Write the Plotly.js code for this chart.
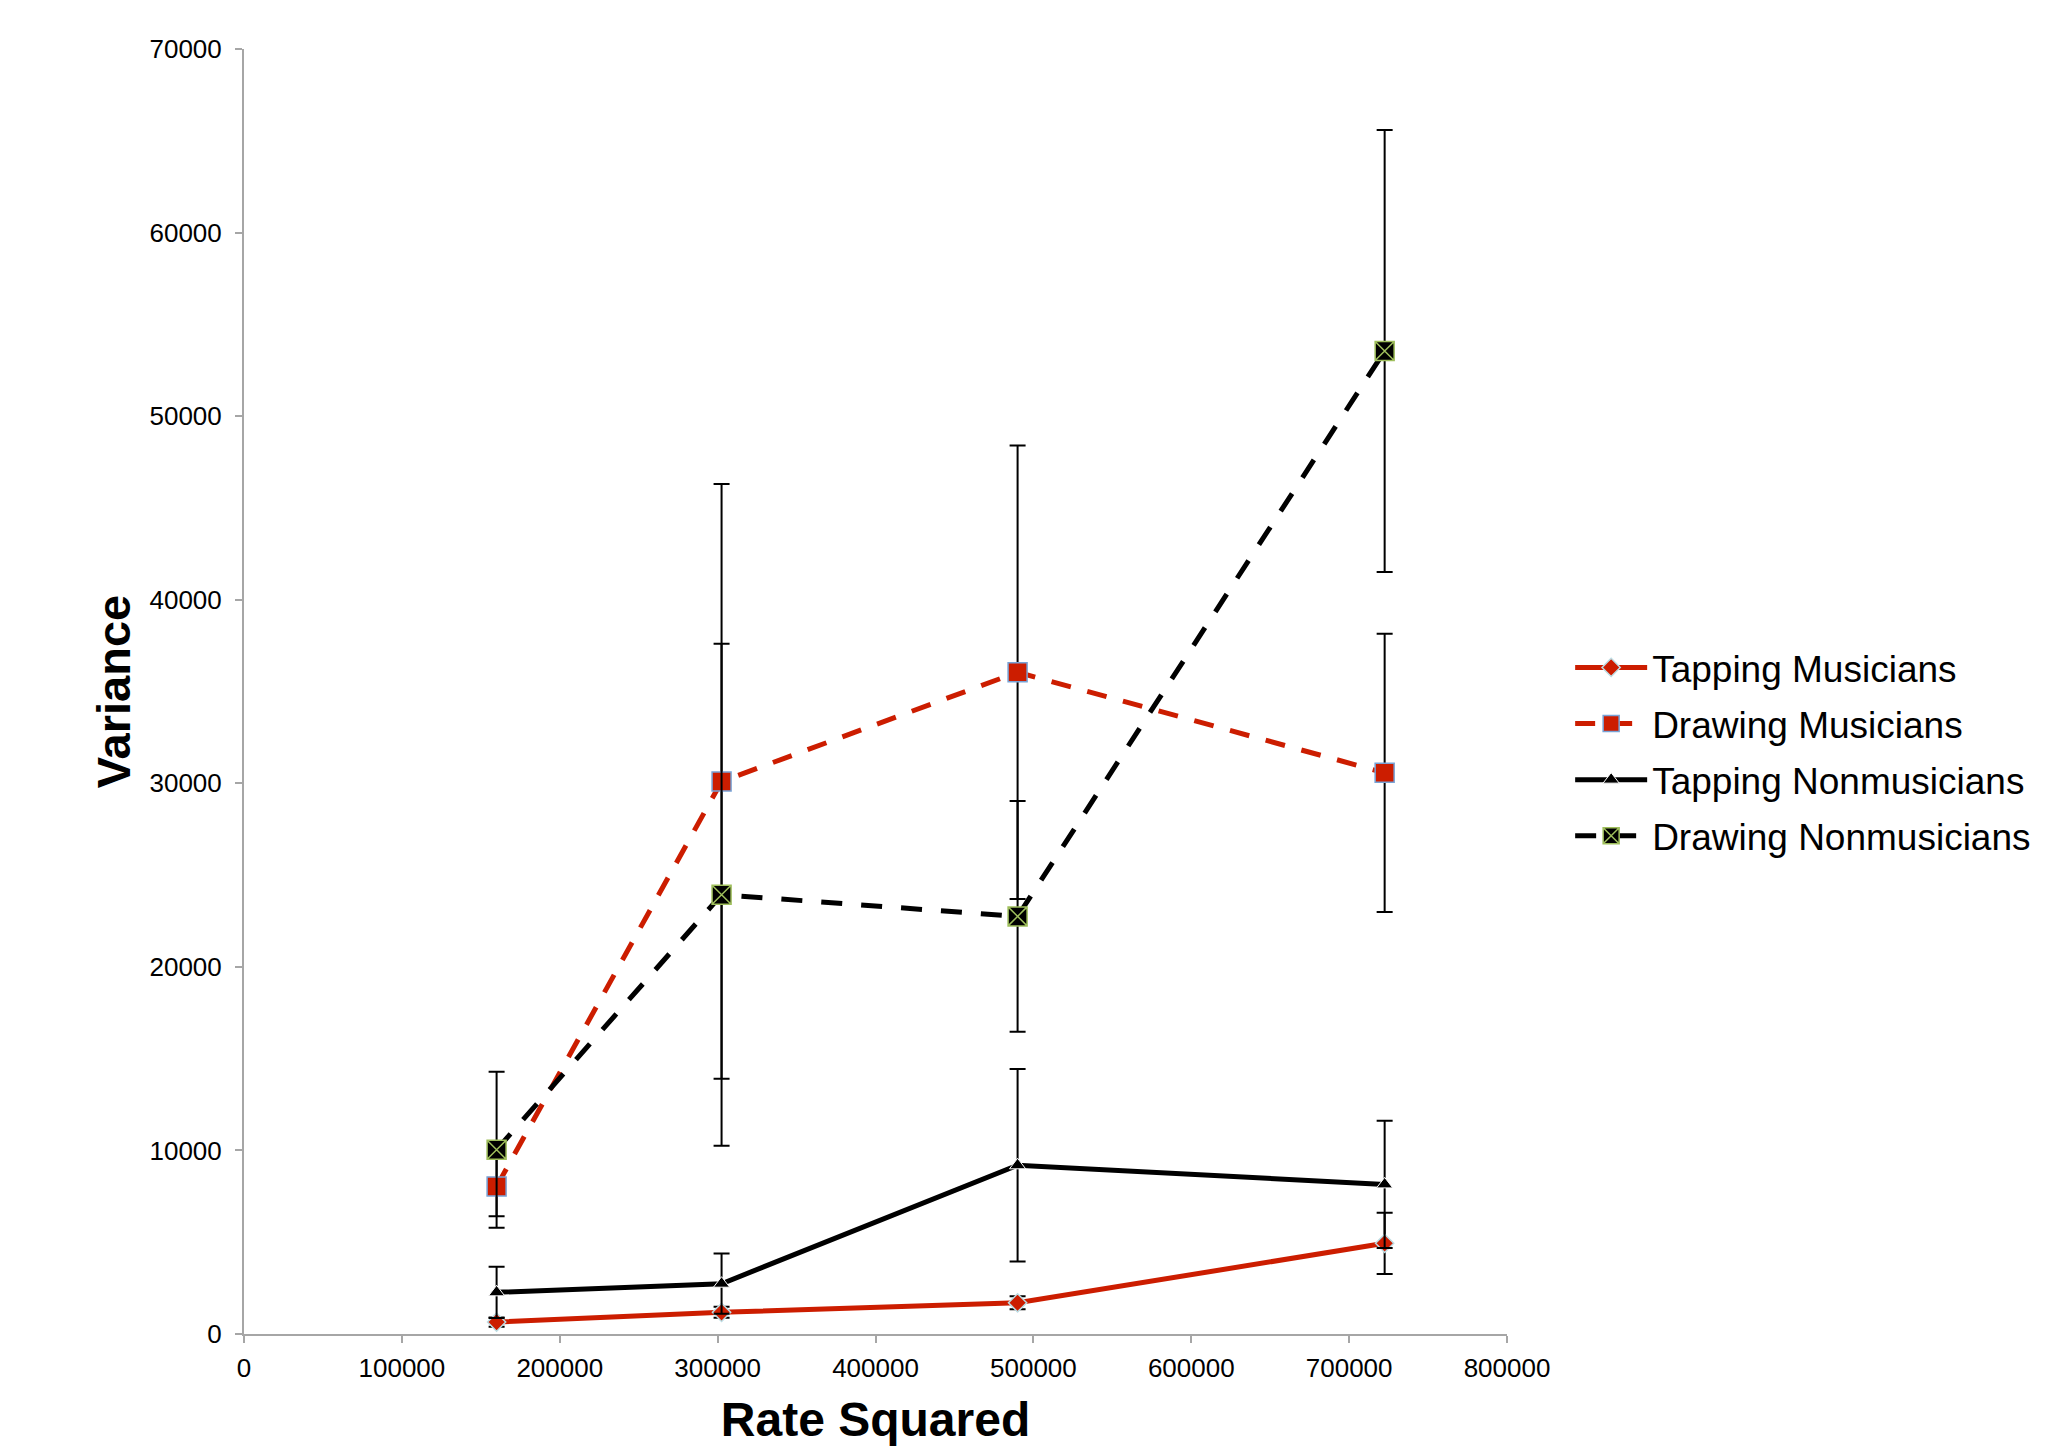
<!DOCTYPE html>
<html>
<head>
<meta charset="utf-8">
<script src="https://cdn.plot.ly/plotly-3.0.1.min.js"></script>
<style>html,body{margin:0;padding:0;background:#fff;}#chart{width:2065px;height:1446px;}</style>
</head>
<body>
<div id="chart"></div>
<script>
const rateSquared = [160000, 302500, 490000, 722500];
const seriesNames = ["Tapping Musicians", "Drawing Musicians", "Tapping Nonmusicians", "Drawing Nonmusicians"];
const tappingMusicians = [650, 1180, 1700, 4940];
const tappingMusiciansErr = [250, 300, 350, 1670];
const drawingMusicians = [8040, 30100, 36050, 30570];
const drawingMusiciansErr = [1630, 16200, 12350, 7580];
const tappingNonmusicians = [2270, 2740, 9190, 8150];
const tappingNonmusiciansErr = [1400, 1640, 5240, 3460];
const drawingNonmusicians = [10040, 23930, 22750, 53550];
const drawingNonmusiciansErr = [4250, 13670, 6280, 12040];
const xTicks = [0, 100000, 200000, 300000, 400000, 500000, 600000, 700000, 800000];
const yTicks = [0, 10000, 20000, 30000, 40000, 50000, 60000, 70000];

const RED = "#cc1d00";
const FONT = "'Liberation Sans', Arial, Helvetica, sans-serif";

function errBar(arr) {
  return {type: "data", array: arr, visible: true, color: "#000", thickness: 2, width: 8};
}

const traces = [
  {
    x: rateSquared, y: tappingMusicians, name: seriesNames[0], type: "scatter", mode: "lines+markers",
    line: {color: RED, width: 5},
    marker: {symbol: "diamond", size: 14, color: RED, line: {color: "#bcdde4", width: 1.5}},
    error_y: errBar(tappingMusiciansErr)
  },
  {
    x: rateSquared, y: drawingMusicians, name: seriesNames[1], type: "scatter", mode: "lines+markers",
    line: {color: RED, width: 5, dash: "20px,17px"},
    marker: {symbol: "square", size: 19, color: RED, line: {color: "#78a3d6", width: 1.5}},
    error_y: errBar(drawingMusiciansErr)
  },
  {
    x: rateSquared, y: tappingNonmusicians, name: seriesNames[2], type: "scatter", mode: "lines+markers",
    line: {color: "#000", width: 5},
    marker: {symbol: "triangle-up", size: 14, color: "#000", line: {color: "#ffffff", width: 1}},
    error_y: errBar(tappingNonmusiciansErr)
  },
  {
    x: rateSquared, y: drawingNonmusicians, name: seriesNames[3], type: "scatter", mode: "lines+markers",
    line: {color: "#000", width: 5, dash: "21px,19px"},
    marker: {symbol: "square-x", size: 19, color: "#000", line: {color: "#9fbf5c", width: 1.5}},
    error_y: errBar(drawingNonmusiciansErr)
  }
];

const axisCommon = {
  showgrid: false, zeroline: false, showline: true, linecolor: "#a6a6a6", linewidth: 2,
  ticks: "outside", ticklen: 7, tickwidth: 2, tickcolor: "#a6a6a6",
  tickfont: {family: FONT, size: 26, color: "#000"}, tickformat: "d", tickmode: "array"
};

const layout = {
  width: 2065, height: 1446,
  margin: {l: 244, r: 558, t: 49, b: 112, pad: 0},
  paper_bgcolor: "#fff", plot_bgcolor: "#fff",
  font: {family: FONT, color: "#000"},
  showlegend: true,
  legend: {
    x: 1.05, xanchor: "left", y: 0.5425, yanchor: "top",
    font: {family: FONT, size: 37, color: "#000"},
    bgcolor: "rgba(0,0,0,0)", borderwidth: 0,
    tracegroupgap: 5, traceorder: "grouped", itemwidth: 72
  },
  xaxis: Object.assign({}, axisCommon, {
    range: [0, 800000], tickvals: xTicks, ticktext: xTicks.map(String), ticklabelstandoff: 3,
    title: {text: "<b>Rate Squared</b>", font: {family: FONT, size: 48, color: "#000"}, standoff: 37}
  }),
  yaxis: Object.assign({}, axisCommon, {
    range: [0, 70000], tickvals: yTicks, ticktext: yTicks.map(String), ticklabelstandoff: 8,
    title: {text: "<b>Variance</b>", font: {family: FONT, size: 47, color: "#000"}, standoff: 4}
  })
};

traces.forEach((t, i) => { t.legendgroup = "g" + i; });

Plotly.newPlot("chart", traces, layout, {displayModeBar: false, staticPlot: true});
</script>
</body>
</html>
